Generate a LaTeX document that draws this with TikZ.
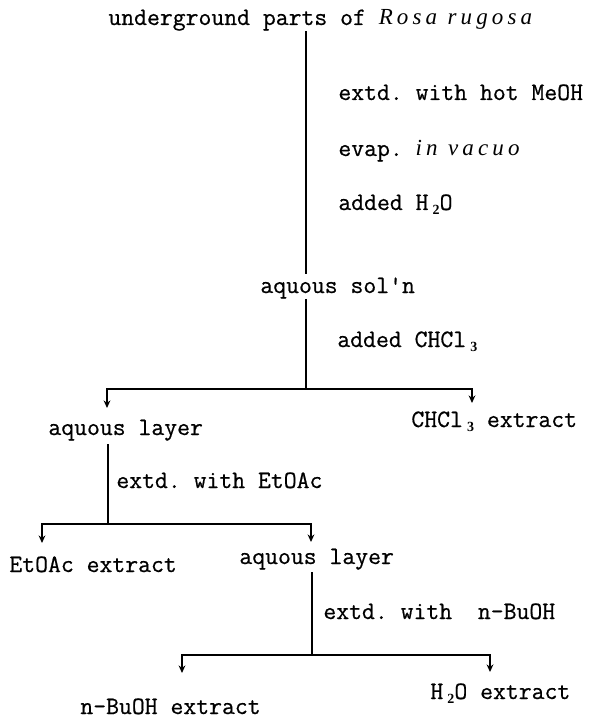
\documentclass[tikz,border=0pt]{standalone}
\usepackage{fontspec}
\setmonofont[FakeBold=0.6]{Latin Modern Mono}
\newfontfamily\rosafont[LetterSpace=18]{Liberation Serif}
\usetikzlibrary{arrows.meta, positioning}
\newcommand{\chemsub}[1]{\,\raisebox{-0.45ex}{\rosafont\fontsize{7}{7}\selectfont\bfseries #1}}
\newcommand{\spit}[1]{{\rosafont\itshape\fontsize{11.5}{13}\selectfont #1}}

\begin{document}
\begin{tikzpicture}[x=0.5pt, y=-0.5pt,
  lbl/.style={inner sep=0pt, anchor=base west, font=\fontsize{12.5}{14}\ttfamily},
  flow/.style={line width=0.8pt},
  split/.style={flow, -{Stealth[length=3.8pt, width=3.4pt]}}]
\useasboundingbox (0,0) rectangle (599,721);
% extraction scheme
\node[lbl] (raw) at (108,25) {underground parts of \spit{Rosa\hspace{0.45em}rugosa}};
\node[lbl] (sol) at (260,293) {aquous sol'n};
\node[lbl] (st1) at (338,100) {extd. with hot MeOH};
\node[lbl] (st2) at (338,156) {evap. \spit{in\hspace{0.45em}vacuo}};
\node[lbl] (st3) at (338,210) {added H\chemsub{2}O};
\coordinate (b1) at (306,389);
\draw[flow] (raw.south -| b1) -- ([yshift=1.5pt]sol.north -| b1);

% CHCl3 partition
\node[lbl] (st4) at (337,347) {added CHCl\chemsub{3}};
\node[lbl] (aq1) at (48,435) {aquous layer};
\node[lbl] (chl) at (411,427) {CHCl\chemsub{3} extract};
\coordinate (t1l) at (107,408);
\coordinate (t1r) at (472,403);
\draw[flow] (sol.south -| b1) -- (b1);
\draw[split] (b1) -| (t1l);
\draw[split] (b1) -| (t1r);

% EtOAc partition
\node[lbl] (st5) at (116,488) {extd. with EtOAc};
\node[lbl] (eta) at (9,572) {EtOAc extract};
\node[lbl] (aq2) at (239,564) {aquous layer};
\coordinate (b2) at (108,524);
\coordinate (t2l) at (42,543);
\coordinate (t2r) at (311,542);
\draw[flow] ([yshift=-1.5pt]aq1.south -| b2) -- (b2);
\draw[split] (b2) -| (t2l);
\draw[split] (b2) -| (t2r);

% n-BuOH partition
\node[lbl] (st6) at (323,619) {extd. with\ \ n-BuOH};
\node[lbl] (buo) at (80,714) {n-BuOH extract};
\node[lbl] (wat) at (430,699) {H\chemsub{2}O extract};
\coordinate (b3) at (312,655);
\coordinate (t3l) at (182,673);
\coordinate (t3r) at (490,672);
\draw[flow] ([yshift=-1pt]aq2.south -| b3) -- (b3);
\draw[split] (b3) -| (t3l);
\draw[split] (b3) -| (t3r);
\end{tikzpicture}
\end{document}
